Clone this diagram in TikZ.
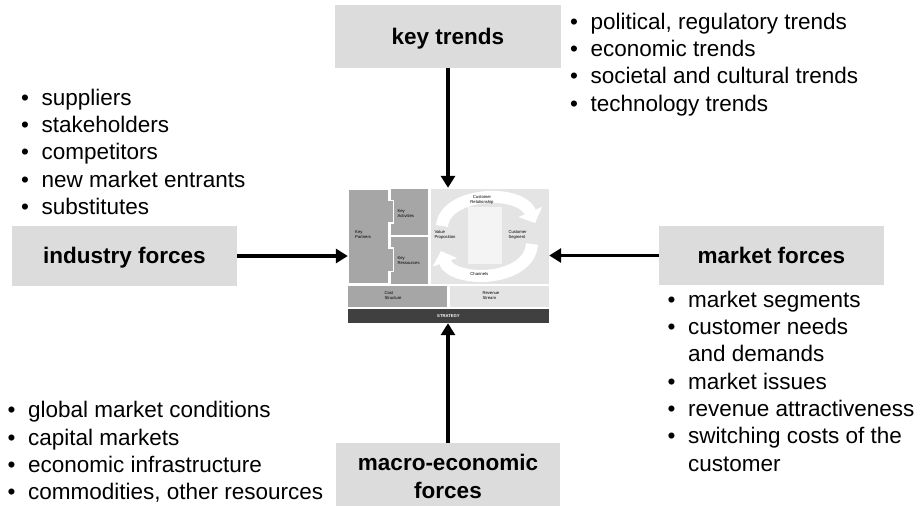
\documentclass[tikz,border=0pt]{standalone}
\usepackage{fontspec}
\setmainfont{Liberation Sans}
\definecolor{BoxGray}{HTML}{DCDCDC}
\definecolor{BlockDark}{HTML}{A6A6A6}
\definecolor{BlockLight}{HTML}{E4E4E4}
\definecolor{StratGray}{HTML}{404040}
\usetikzlibrary{arrows.meta,positioning}
\newcommand{\listfont}{\fontsize{22.5}{27.3}\selectfont}
\newcommand{\forcefont}{\bfseries\fontsize{22.5}{28}\selectfont}
\newcommand{\tinyfont}{\fontsize{4.2}{5}\selectfont}

\begin{document}
\begin{tikzpicture}[
  x=1pt,y=-1pt,
  force/.style={fill=BoxGray,inner sep=0pt,minimum width=225pt,minimum height=61pt,font=\forcefont,align=center},
  oneline/.style={text height=19pt,text depth=4pt},
  bullets/.style={anchor=north west,inner sep=0pt,font=\listfont},
  tiny/.style={inner sep=0pt,font=\tinyfont,align=left},
  arr/.style={-{Triangle[length=12pt,width=14pt]},line width=3.5pt},
  cycarr/.style={white,line width=12pt,-{Triangle[length=12pt,width=25pt]}}
]
\useasboundingbox (0,0) rectangle (920,506);

\node[force,oneline,minimum width=226pt,minimum height=63pt] (trends) at (448,36.5) {key trends};
\node[force,oneline,minimum height=60pt] (ind) at (124.5,256) {industry forces};
\node[force,oneline,minimum height=59pt] (mkt) at (771.5,255.5) {market forces};
\node[force,minimum width=224pt,minimum height=63pt] (macro) at (448,474.5) {\raisebox{-9.6pt}[0pt][0pt]{\begin{tabular}{@{}c@{}}macro-economic\\forces\end{tabular}}};

\node[bullets] (trendlist) at (570,10) {\begin{tabular}{@{}l@{\hspace{12.5pt}}l@{}}
\textbullet & political, regulatory trends\\
\textbullet & economic trends\\
\textbullet & societal and cultural trends\\
\textbullet & technology trends
\end{tabular}};
\node[bullets] (indlist) at (21,86) {\begin{tabular}{@{}l@{\hspace{12.5pt}}l@{}}
\textbullet & suppliers\\
\textbullet & stakeholders\\
\textbullet & competitors\\
\textbullet & new market entrants\\
\textbullet & substitutes
\end{tabular}};
\node[bullets] (mktlist) at (667.5,288) {\begin{tabular}{@{}l@{\hspace{12.5pt}}l@{}}
\textbullet & market segments\\
\textbullet & customer needs\\
 & and demands\\
\textbullet & market issues\\
\textbullet & revenue attractiveness\\
\textbullet & switching costs of the\\
 & customer
\end{tabular}};
\node[bullets] (macrolist) at (7.5,398.5) {\begin{tabular}{@{}l@{\hspace{12.5pt}}l@{}}
\textbullet & global market conditions\\
\textbullet & capital markets\\
\textbullet & economic infrastructure\\
\textbullet & commodities, other resources
\end{tabular}};

\node[minimum width=201pt,minimum height=135pt,inner sep=0pt] (bmc) at (448.5,255.5) {};
\fill[BlockDark] (390.7,189) rectangle (427.7,235);
\fill[BlockDark] (390.7,237.3) rectangle (427.7,284);
\filldraw[fill=BlockDark,draw=white,line width=1.2pt] (348,189) -- (388.5,189) -- (388.5,200.5) -- (393.3,200.5) -- (393.3,223) -- (388.5,223) -- (388.5,248) -- (393.3,248) -- (393.3,271.5) -- (388.5,271.5) -- (388.5,284) -- (348,284) -- cycle;
\fill[BlockLight] (430.7,189) rectangle (549,284);
\fill[white!60!BlockLight] (468,207) rectangle (502,264);
\draw[cycarr] (442,226) .. controls (445,192) and (520,188) .. (535,223);
\draw[cycarr] (532,244) .. controls (529,283) and (452,283) .. (441,251);
\fill[BlockDark] (348,286) rectangle (447,307);
\fill[BlockLight] (450,286) rectangle (549,307);
\fill[StratGray] (348,309) rectangle (549,323);

\node[tiny,anchor=west] (kp) at (355,234.8) {Key\\Partners};
\node[tiny,anchor=west] (ka) at (397.3,213.5) {Key\\Activities};
\node[tiny,anchor=west] (kr) at (397.3,260.5) {Key\\Ressources};
\node[tiny,anchor=west] (vp) at (434.3,234.8) {Value\\Proposition};
\node[tiny,align=center] (cr) at (482,199.5) {Customer\\Relationship};
\node[tiny,anchor=west] (cs) at (508.3,234.8) {Customer\\Segment};
\node[tiny] (ch) at (479.3,274) {Channels};
\node[tiny,anchor=west] (cost) at (384.3,295.5) {Cost\\Structure};
\node[tiny,anchor=west] (rev) at (482.3,295.5) {Revenue\\Stream};
\node[tiny,text=white,font=\tinyfont\bfseries] (strat) at (448.5,316) {STRATEGY};

\draw[arr] (trends.south) -- (trends.south |- bmc.north);
\draw[arr] (macro.north) -- (macro.north |- bmc.south);
\draw[arr] (ind.east) -- (ind.east -| bmc.west);
\draw[arr] (mkt.west) -- (mkt.west -| bmc.east);
\end{tikzpicture}
\end{document}
